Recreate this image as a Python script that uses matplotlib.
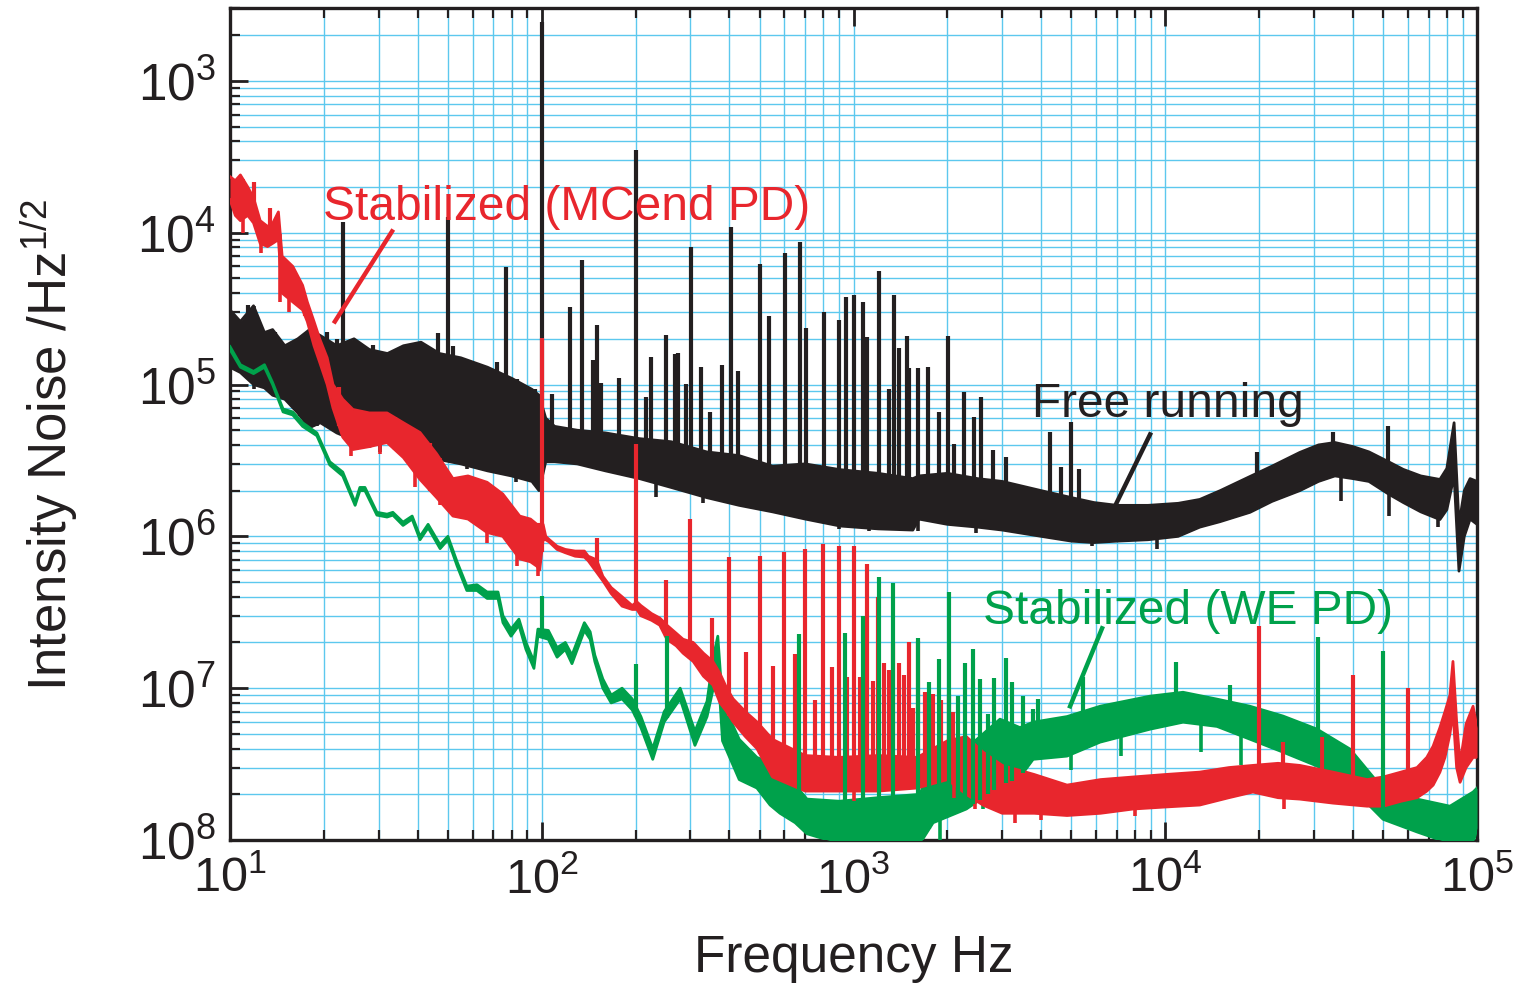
import numpy as np
import matplotlib
matplotlib.use("Agg")
import matplotlib.pyplot as plt
from matplotlib.ticker import FixedLocator, FixedFormatter, LogLocator, NullFormatter

plt.rcParams["font.family"] = ["Liberation Sans", "DejaVu Sans"]
plt.rcParams["mathtext.default"] = "regular"

# ---- free running (black): noise band envelope + line spikes ----
black_f = [10, 10.8, 11.9, 12.9, 13.7, 15, 16.5, 18, 19.5, 22, 25, 28, 32, 36, 41, 47, 55, 67, 80,
           93, 98, 103, 110, 130, 160, 206, 260, 338, 430, 550, 700, 905, 1200, 1550, 1620, 2000,
           2500, 3000, 4000, 5000, 5900, 7000, 8800, 11000, 12900, 15000, 18700, 22000, 27000,
           31000, 35000, 40000, 45000, 52000, 58000, 66000, 76000, 80000, 84400, 87500, 91000,
           95000, 100000]
black_hi = [3.1e-5, 2.6e-5, 3.3e-5, 2.2e-5, 2.3e-5, 1.8e-5, 2.0e-5, 2.3e-5, 2.1e-5, 1.8e-5, 2.0e-5,
            1.7e-5, 1.6e-5, 1.8e-5, 1.9e-5, 1.6e-5, 1.5e-5, 1.3e-5, 1.1e-5, 9.3e-6, 8.5e-6, 6.0e-6,
            5.3e-6, 5.0e-6, 4.8e-6, 4.4e-6, 4.2e-6, 3.6e-6, 3.4e-6, 2.9e-6, 3.0e-6, 2.75e-6, 2.6e-6,
            2.4e-6, 2.5e-6, 2.6e-6, 2.4e-6, 2.3e-6, 2.0e-6, 1.8e-6, 1.67e-6, 1.6e-6, 1.6e-6, 1.65e-6,
            1.75e-6, 2.0e-6, 2.48e-6, 2.9e-6, 3.57e-6, 4.0e-6, 4.15e-6, 3.9e-6, 3.6e-6, 3.1e-6,
            2.76e-6, 2.5e-6, 2.37e-6, 2.8e-6, 5.6e-6, 1.2e-6, 2.0e-6, 2.4e-6, 2.3e-6]
black_lo = [1.3e-5, 1.2e-5, 1.0e-5, 9.5e-6, 8.5e-6, 8.0e-6, 6.5e-6, 5.2e-6, 5.6e-6, 4.8e-6, 4.3e-6,
            3.9e-6, 4.4e-6, 3.6e-6, 3.7e-6, 3.2e-6, 3.0e-6, 2.7e-6, 2.5e-6, 2.3e-6, 2.0e-6, 3.1e-6,
            3.1e-6, 3.0e-6, 2.7e-6, 2.4e-6, 2.1e-6, 1.8e-6, 1.6e-6, 1.45e-6, 1.3e-6, 1.17e-6, 1.12e-6,
            1.1e-6, 1.3e-6, 1.2e-6, 1.15e-6, 1.1e-6, 1.0e-6, 9.3e-7, 9.1e-7, 9.3e-7, 9.5e-7, 1.0e-6,
            1.15e-6, 1.25e-6, 1.44e-6, 1.7e-6, 2.0e-6, 2.3e-6, 2.5e-6, 2.4e-6, 2.3e-6, 1.9e-6,
            1.67e-6, 1.45e-6, 1.29e-6, 1.5e-6, 2.5e-6, 5.9e-7, 1.0e-6, 1.3e-6, 1.2e-6]
black_spike_f = [10.2, 11.4, 12.0, 12.8, 13.9, 15.0, 16.8, 18.1, 20.5, 22.0, 23, 25.2, 28.7, 31.9,
                 35.6, 40.7, 46.5, 50, 51.9, 62.0, 71.8, 77, 83.3, 95.1, 100, 108, 123, 135, 146,
                 150, 155, 177, 200, 216, 224, 250, 267, 273, 290, 301, 324, 347, 379, 405, 426,
                 501, 536, 603, 673, 704, 804, 898, 946, 1004, 1072, 1105, 1207, 1300, 1349, 1400,
                 1485, 1507, 1610, 1734, 1880, 2010, 2100, 2260, 2435, 2565, 2800, 3080, 4270,
                 4630, 4990, 5290, 19700, 34500, 51800]
black_spike_v = [2.68e-5, 3.36e-5, 2.48e-5, 2.07e-5, 2.23e-5, 1.7e-5, 1.62e-5, 2.3e-5, 2.23e-5,
                 2.0e-5, 1.18e-4, 1.78e-5, 1.83e-5, 1.4e-5, 1.7e-5, 1.31e-5, 2.2e-5, 1.27e-4,
                 1.78e-5, 1.31e-5, 1.4e-5, 5.97e-5, 1.08e-5, 9.3e-6, 2.44e-3, 8.6e-6, 3.26e-5,
                 6.6e-5, 1.46e-5, 2.48e-5, 1.03e-5, 1.11e-5, 3.5e-4, 8.3e-6, 1.51e-5, 2.13e-5,
                 1.58e-5, 1.62e-5, 1.01e-5, 8.1e-5, 1.31e-5, 6.6e-6, 1.35e-5, 1.09e-4, 1.22e-5,
                 6.25e-5, 2.84e-5, 7.4e-5, 8.7e-5, 2.37e-5, 3.02e-5, 2.68e-5, 3.79e-5, 3.91e-5,
                 3.52e-5, 2.07e-5, 5.6e-5, 9.4e-6, 3.91e-5, 1.75e-5, 2.1e-5, 1.29e-5, 1.28e-5,
                 1.31e-5, 6.6e-6, 2.1e-5, 4.03e-6, 8.9e-6, 6.15e-6, 8.3e-6, 3.73e-6, 3.31e-6,
                 4.9e-6, 2.85e-6, 5.7e-6, 2.76e-6, 3.57e-6, 4.9e-6, 5.3e-6]
# downward excursions below the band
black_dip_f = [11.9, 19.0, 24.3, 30.3, 33.3, 40.7, 47.0, 57.5, 66.8, 72.4, 82.5, 93.5, 232, 330,
               620, 900, 1120, 1610, 2470, 5800, 6500, 9400, 36500, 52000, 75000]
black_dip_v = [9.3e-6, 5.3e-6, 5.3e-6, 3.57e-6, 4.3e-6, 3.07e-6, 3.9e-6, 2.76e-6, 2.76e-6,
               3.5e-6, 2.27e-6, 2.64e-6, 1.83e-6, 1.67e-6, 1.36e-6, 1.11e-6, 1.08e-6, 1.08e-6,
               1.06e-6, 8.7e-7, 9.9e-7, 8.3e-7, 1.7e-6, 1.36e-6, 1.16e-6]

# ---- stabilized, MCend PD (red) ----
red_f = [10, 10.4, 10.8, 11.4, 11.9, 12.5, 13.2, 13.7, 14.3, 14.7, 15.9, 17.1, 17.7, 18.6, 19.4,
         20.5, 21.4, 23, 24.8, 28, 31.9, 36, 40.7, 46, 51.9, 58, 66.8, 75, 85, 92, 96.5, 98.5, 101,
         103, 105.5, 112, 119, 128, 137, 141, 150, 157, 167, 181, 195, 202, 208, 225, 239, 252, 270,
         284, 306, 330, 354, 373, 392, 411, 450, 490, 550, 700, 900, 1200, 1600, 2000, 2300, 2600,
         3000, 3800, 4840, 6200, 7880, 10000, 12900, 16000, 19100, 23000, 27000, 34500, 44400,
         50000, 57000, 64200, 69000, 72300, 76000, 78900, 81850, 83700, 86000, 88200, 92200, 97100,
         100000]
red_hi = [2.34e-4, 2.2e-4, 2.4e-4, 2.0e-4, 1.7e-4, 1.2e-4, 1.1e-4, 1.15e-4, 1.37e-4, 7.0e-5, 6.0e-5,
          4.5e-5, 3.5e-5, 2.6e-5, 2.0e-5, 1.5e-5, 1.0e-5, 8.0e-6, 6.85e-6, 6.5e-6, 6.5e-6, 5.6e-6,
          4.83e-6, 3.5e-6, 2.4e-6, 2.5e-6, 2.27e-6, 1.9e-6, 1.36e-6, 1.3e-6, 1.2e-6, 1.2e-6, 1.2e-6,
          1.0e-6, 9.55e-7, 8.6e-7, 8.2e-7, 8.0e-7, 8.0e-7, 7.4e-7, 7.0e-7, 5.46e-7, 4.6e-7, 4.0e-7,
          3.5e-7, 3.7e-7, 3.5e-7, 3.1e-7, 2.9e-7, 2.6e-7, 2.3e-7, 2.1e-7, 2.0e-7, 1.7e-7, 1.5e-7,
          1.25e-7, 1.0e-7, 8.5e-8, 7.0e-8, 6.0e-8, 4.6e-8, 3.6e-8, 3.5e-8, 3.6e-8, 3.5e-8, 4.5e-8,
          4.8e-8, 3.8e-8, 3.1e-8, 2.7e-8, 2.3e-8, 2.5e-8, 2.6e-8, 2.7e-8, 2.8e-8, 3.0e-8, 3.1e-8,
          3.2e-8, 3.1e-8, 2.8e-8, 2.5e-8, 2.6e-8, 2.8e-8, 3.0e-8, 3.5e-8, 4.15e-8, 5.5e-8, 7.0e-8,
          9.0e-8, 1.5e-7, 6.0e-8, 3.2e-8, 5.8e-8, 7.6e-8, 5.5e-8]
red_lo = [1.65e-4, 1.3e-4, 1.2e-4, 1.3e-4, 1.16e-4, 8.5e-5, 8.1e-5, 8.5e-5, 9.0e-5, 4.0e-5, 3.5e-5,
          3.1e-5, 2.6e-5, 1.8e-5, 1.4e-5, 1.0e-5, 7.0e-6, 4.5e-6, 3.73e-6, 3.9e-6, 4.15e-6, 3.3e-6,
          2.37e-6, 1.8e-6, 1.36e-6, 1.3e-6, 1.06e-6, 1.0e-6, 7.1e-7, 6.8e-7, 6.35e-7, 6.0e-7, 9.5e-7,
          9.5e-7, 9.2e-7, 8.2e-7, 7.8e-7, 7.4e-7, 7.3e-7, 6.9e-7, 5.8e-7, 5.1e-7, 4.2e-7, 3.47e-7,
          3.3e-7, 3.3e-7, 3.0e-7, 2.8e-7, 2.6e-7, 2.1e-7, 1.9e-7, 1.7e-7, 1.5e-7, 1.2e-7, 1.05e-7,
          8.0e-8, 7.0e-8, 6.0e-8, 4.8e-8, 4.0e-8, 2.6e-8, 2.1e-8, 2.1e-8, 2.1e-8, 2.2e-8, 2.5e-8,
          2.0e-8, 1.7e-8, 1.5e-8, 1.5e-8, 1.45e-8, 1.5e-8, 1.6e-8, 1.65e-8, 1.7e-8, 1.9e-8, 2.07e-8,
          1.9e-8, 1.86e-8, 1.75e-8, 1.67e-8, 1.67e-8, 1.8e-8, 1.9e-8, 2.1e-8, 2.3e-8, 2.8e-8, 3.5e-8,
          5.0e-8, 7.0e-8, 3.0e-8, 2.4e-8, 3.0e-8, 3.5e-8, 3.5e-8]
red_spike_f = [11.9, 13.4, 17.4, 22.4, 26.1, 33.9, 43.9, 60.2, 100, 150, 200, 250, 300, 352, 400,
               452, 500, 552, 600, 649, 700, 753, 800, 853, 900, 953, 1000, 1049, 1105, 1155, 1198,
               1253, 1300, 1339, 1400, 1452, 1507, 1552, 1610, 1695, 1798, 1909, 2025, 2084, 20000,
               23870, 31840, 40000, 60000]
red_spike_v = [2.17e-4, 1.45e-4, 3.5e-5, 9.7e-6, 6.5e-6, 6.15e-6, 4.15e-6, 2.37e-6, 2.01e-5, 9.7e-7,
               4.05e-6, 5.14e-7, 1.31e-6, 2.89e-7, 7.3e-7, 1.72e-7, 7.4e-7, 1.40e-7, 7.85e-7,
               1.67e-7, 8.3e-7, 8.4e-8, 8.9e-7, 1.37e-7, 8.6e-7, 1.18e-7, 8.6e-7, 1.18e-7, 6.6e-7,
               1.11e-7, 4.0e-7, 1.46e-7, 1.31e-7, 1.98e-7, 1.46e-7, 1.22e-7, 2.01e-7, 7.4e-8,
               2.04e-7, 9.4e-8, 9.1e-8, 8.4e-8, 9.1e-8, 6.95e-8, 2.56e-7, 4.4e-8, 4.8e-8, 1.22e-7,
               1.0e-7]
red_dip_f = [11.0, 12.6, 14.5, 15.5, 24.5, 30.3, 39.2, 47.0, 66.8, 83.3, 97.2, 1000, 2100, 2450,
             3300, 4000, 8000, 24000]
red_dip_v = [1.0e-4, 7.4e-5, 3.5e-5, 3.0e-5, 3.4e-6, 3.5e-6, 2.1e-6, 1.6e-6, 9.0e-7, 6.4e-7,
             5.5e-7, 1.8e-8, 1.9e-8, 1.6e-8, 1.3e-8, 1.35e-8, 1.45e-8, 1.6e-8]

# ---- stabilized, WE PD (green) ----
green_f = [10, 10.8, 11.9, 12.9, 13.7, 14.8, 15.9, 17.1, 19.0, 20.9, 23.0, 25.2, 26.1, 27.1, 29.6,
           31.9, 33.3, 35.9, 38.4, 40.7, 43.2, 47.2, 50.0, 53.5, 57.5, 62.0, 66.8, 72.4, 75.1, 79.7,
           84.5, 89.0, 94.4, 97.2, 105, 112, 119, 125, 137, 143, 148, 157, 167, 181, 195, 208, 227,
           247, 278, 310, 339, 355, 367, 380, 430, 490, 540, 581, 650, 709, 900, 1200, 1634, 1800,
           2300, 2950, 3420, 3768, 4838, 6175, 8937, 11400, 14650, 18700, 23870, 30680, 39140,
           49930, 64200, 81850, 97100, 100000]
green_hi = [1.78e-5, 1.35e-5, 1.22e-5, 1.35e-5, 1.03e-5, 6.9e-6, 6.6e-6, 5.6e-6, 4.8e-6, 3.1e-6,
            2.65e-6, 1.67e-6, 2.1e-6, 2.1e-6, 1.44e-6, 1.40e-6, 1.44e-6, 1.24e-6, 1.36e-6, 1.0e-6,
            1.2e-6, 8.8e-7, 1.0e-6, 6.8e-7, 4.7e-7, 4.8e-7, 4.3e-7, 4.3e-7, 3.0e-7, 2.45e-7, 2.85e-7,
            2.0e-7, 1.5e-7, 2.45e-7, 2.4e-7, 1.85e-7, 2.0e-7, 1.65e-7, 2.7e-7, 2.35e-7, 1.65e-7,
            1.15e-7, 9.0e-8, 1.0e-7, 8.5e-8, 6.5e-8, 4.0e-8, 7.0e-8, 1.0e-7, 5.2e-8, 8.2e-8, 1.6e-7,
            2.2e-7, 8.0e-8, 4.6e-8, 3.5e-8, 3.2e-8, 2.5e-8, 2.3e-8, 1.86e-8, 1.8e-8, 1.9e-8, 2.0e-8,
            3.4e-8, 4.0e-8, 6.25e-8, 5.5e-8, 5.97e-8, 6.5e-8, 7.6e-8, 8.86e-8, 9.4e-8, 8.47e-8,
            7.6e-8, 6.55e-8, 5.37e-8, 3.97e-8, 2.17e-8, 1.86e-8, 1.67e-8, 2.07e-8, 2.2e-8]
green_lo = [1.7e-5, 1.3e-5, 1.18e-5, 1.3e-5, 1.0e-5, 6.6e-6, 6.3e-6, 5.3e-6, 4.6e-6, 2.95e-6, 2.5e-6,
            1.6e-6, 2.0e-6, 2.0e-6, 1.38e-6, 1.34e-6, 1.38e-6, 1.18e-6, 1.3e-6, 9.5e-7, 1.14e-6,
            8.3e-7, 9.5e-7, 6.4e-7, 4.4e-7, 4.4e-7, 3.9e-7, 3.9e-7, 2.7e-7, 2.2e-7, 2.6e-7, 1.8e-7,
            1.35e-7, 2.2e-7, 2.1e-7, 1.6e-7, 1.8e-7, 1.45e-7, 2.4e-7, 2.1e-7, 1.5e-7, 1.0e-7, 8.0e-8,
            8.5e-8, 7.2e-8, 5.5e-8, 3.4e-8, 6.0e-8, 8.5e-8, 4.2e-8, 6.5e-8, 1.0e-7, 1.4e-7, 4.5e-8,
            2.5e-8, 2.2e-8, 1.7e-8, 1.5e-8, 1.3e-8, 1.1e-8, 9.5e-9, 9.5e-9, 9.5e-9, 1.3e-8, 1.6e-8,
            2.27e-8, 2.6e-8, 3.4e-8, 3.57e-8, 4.41e-8, 5.37e-8, 5.97e-8, 5.6e-8, 4.61e-8, 3.79e-8,
            3.07e-8, 2.27e-8, 1.37e-8, 1.13e-8, 9.5e-9, 9.5e-9, 1.2e-8]
green_spike_f = [100, 200, 252, 669, 940, 1072, 1207, 1339, 1610, 1746, 1880, 2025, 2162, 2279, 2417,
                 2545, 2699, 2823, 3085, 3221, 3499, 3768, 3909, 5447, 10830, 16130, 30910, 49930]
green_spike_v = [4.03e-7, 1.44e-7, 2.2e-7, 2.26e-7, 2.31e-7, 2.98e-7, 5.4e-7, 4.9e-7, 2.13e-7,
                 1.1e-7, 1.55e-7, 4.28e-7, 8.9e-8, 1.46e-7, 1.81e-7, 1.15e-7, 6.8e-8, 1.16e-7,
                 1.57e-7, 1.10e-7, 8.9e-8, 7.3e-8, 8.47e-8, 1.18e-7, 1.48e-7, 1.05e-7, 2.17e-7,
                 1.75e-7]
green_dip_f = [1900, 2600, 3300, 5000, 7200, 13000, 17500]
green_dip_v = [1.0e-8, 1.6e-8, 2.0e-8, 2.9e-8, 3.6e-8, 3.8e-8, 3.1e-8]

x_ticks = [1e1, 1e2, 1e3, 1e4, 1e5]
x_labels = ["1", "2", "3", "4", "5"]
y_ticks = [1e-3, 1e-4, 1e-5, 1e-6, 1e-7, 1e-8]
y_labels = ["3", "4", "5", "6", "7", "8"]

BLACK = "#231f20"
RED = "#e8262d"
GREEN = "#00a14b"
GRID = "#5cc8ee"

fig = plt.figure(figsize=(15.14, 9.85), dpi=100)
ax = fig.add_axes([0.1519, 0.1472, 0.8237, 0.8447])
ax.set_xscale("log")
ax.set_yscale("log")


def env_at(f, fq, vals):
    # band edge value at the spike frequencies (log-log)
    return 10 ** np.interp(np.log10(fq), np.log10(f), np.log10(vals))


def band(f, hi, lo, color, z):
    ax.fill_between(f, lo, hi, color=color, lw=0, zorder=z)
    ax.plot(f, hi, color=color, lw=2.0, zorder=z)
    ax.plot(f, lo, color=color, lw=2.0, zorder=z)


def spikes(f, lo, hi, sf, sv, color, z, dips_f=(), dips_v=()):
    if len(sf):
        ax.vlines(sf, env_at(f, sf, lo), sv, color=color, lw=3.0, zorder=z)
    if len(dips_f):
        ax.vlines(dips_f, dips_v, env_at(f, dips_f, hi), color=color, lw=2.6, zorder=z)


band(black_f, black_hi, black_lo, BLACK, 3)
spikes(black_f, black_lo, black_hi, black_spike_f, black_spike_v, BLACK, 3,
       black_dip_f, black_dip_v)
band(green_f, green_hi, green_lo, GREEN, 4)
spikes(green_f, green_lo, green_hi, [], [], GREEN, 4, green_dip_f, green_dip_v)
band(red_f, red_hi, red_lo, RED, 5)
spikes(red_f, red_lo, red_hi, red_spike_f, red_spike_v, RED, 5, red_dip_f, red_dip_v)
spikes(green_f, green_lo, green_hi, green_spike_f, green_spike_v, GREEN, 6)

# annotations
ax.text(19.9, 1.22e-4, "Stabilized (MCend PD)", color=RED, fontsize=34.5, va="baseline", zorder=8)
ax.plot([33.1, 21.7], [1.02e-4, 2.6e-5], color=RED, lw=3.2, zorder=8)
ax.text(3738, 6.07e-6, "Free running", color=BLACK, fontsize=34.5, va="baseline", zorder=8)
ax.plot([8937, 6790], [4.69e-6, 1.48e-6], color=BLACK, lw=3.2, zorder=8)
ax.text(2603, 2.64e-7, "Stabilized (WE PD)", color=GREEN, fontsize=34.5, va="baseline", zorder=8)
ax.plot([6270, 4950], [2.48e-7, 7.6e-8], color=GREEN, lw=3.2, zorder=8)

ax.set_xlim(10, 1e5)
ax.set_ylim(1e-8, 3.02e-3)

ax.xaxis.set_major_locator(FixedLocator(x_ticks))
ax.xaxis.set_major_formatter(FixedFormatter([r"$10^{%s}$" % s for s in x_labels]))
ax.yaxis.set_major_locator(FixedLocator(y_ticks))
ax.yaxis.set_major_formatter(FixedFormatter([r"$10^{%s}$" % s for s in y_labels]))
for axis in (ax.xaxis, ax.yaxis):
    axis.set_minor_locator(LogLocator(base=10, subs=np.arange(2, 10), numticks=20))
    axis.set_minor_formatter(NullFormatter())

ax.set_axisbelow(True)
ax.grid(True, which="both", color=GRID, lw=1.0)
ax.tick_params(which="both", direction="in", top=True, right=False, colors=BLACK)
ax.tick_params(which="major", length=13, width=2)
ax.tick_params(which="minor", length=7, width=1.6)
ax.tick_params(axis="x", pad=12, labelsize=35)
ax.tick_params(axis="y", pad=10, labelsize=37)
for s in ax.spines.values():
    s.set_linewidth(2.4)
    s.set_color(BLACK)

ax.set_xlabel("Frequency Hz", fontsize=37, color=BLACK)
ax.set_ylabel(r"Intensity Noise /Hz$^{1/2}$", fontsize=38, color=BLACK)
ax.xaxis.set_label_coords(0.5, -0.113)
ax.xaxis.label.set_va("top")
ax.yaxis.set_label_coords(-0.12, 0.475)

fig.savefig("out.png", dpi=100)
